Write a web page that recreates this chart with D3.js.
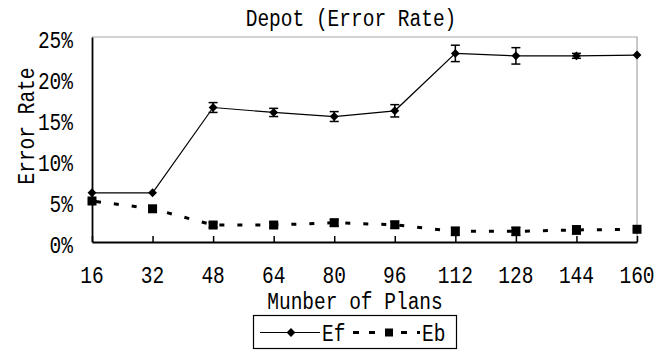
<!DOCTYPE html>
<html><head><meta charset="utf-8">
<script src="https://cdn.jsdelivr.net/npm/d3@7"></script>
<style>body{margin:0;background:#fff}svg{display:block}text{font-family:"Liberation Mono",monospace;font-size:19.5px;fill:#000}</style>
</head><body><svg id="c" width="668" height="354"></svg>
<script>
const plans = [16,32,48,64,80,96,112,128,144,160];
const efValues = [6.0,6.0,16.4,15.8,15.3,16.0,23.0,22.7,22.7,22.8];
const efErrors = [0,0,0.6,0.5,0.6,0.75,1.0,1.0,0.3,0];
const ebValues = [5.0,4.05,2.07,2.07,2.35,2.1,1.3,1.3,1.47,1.55];
const ebErrors = [0,0.2,0.3,0.3,0.4,0.4,0.5,0.5,0.5,0];
const yTicks = [0,5,10,15,20,25];
const titleText = "Depot (Error Rate)";
const xTitle = "Munber of Plans";
const yTitle = "Error Rate";
const seriesNames = ["Ef","Eb"];

const svg = d3.select("#c");
const x = d3.scaleLinear().domain([16,160]).range([92,637]);
const y = d3.scaleLinear().domain([0,25]).range([242,37]);
const SY = 1.25;

function label(px, py, str, anchor, rot){
  svg.append("text")
    .attr("transform", `translate(${px},${py}) rotate(${rot||0}) scale(1,${SY})`)
    .attr("text-anchor", anchor||"middle")
    .attr("dy","0.36em")
    .text(str);
}

// frame (top/right gray)
svg.append("path").attr("d",`M${x(16)},${y(25)}H${x(160)}V${y(0)}`)
  .attr("fill","none").attr("stroke","#a6a6a6").attr("stroke-width",1.2);

// axes
const xAxis = d3.axisBottom(x).tickValues(plans).tickSizeInner(-6).tickSizeOuter(0).tickFormat("");
const gx = svg.append("g").attr("transform",`translate(0,${y(0)})`).call(xAxis);
gx.select(".domain").attr("stroke","#000").attr("stroke-width",1.8);
gx.selectAll(".tick line").attr("stroke","#000").attr("stroke-width",1.5);
const yAxis = d3.axisLeft(y).tickValues(yTicks).tickSize(0).tickFormat("");
const gy = svg.append("g").attr("transform",`translate(${x(16)},0)`).call(yAxis);
gy.select(".domain").attr("stroke","#000").attr("stroke-width",1.8);

plans.forEach(p => label(x(p), 274.5, String(p)));
yTicks.forEach(t => label(73, y(t)+2, t+"%", "end"));

label(351, 17, titleText);
label(355, 300.5, xTitle);
label(25, 126, yTitle, "middle", -90);

// Ef series
const line = d3.line().x(d=>x(d[0])).y(d=>y(d[1]));
const ef = plans.map((p,i)=>[p,efValues[i],efErrors[i]]);
const eb = plans.map((p,i)=>[p,ebValues[i],ebErrors[i]]);

svg.append("path").datum(eb).attr("d",line).attr("fill","none")
  .attr("stroke","#000").attr("stroke-width",3).attr("stroke-dasharray","5,13").attr("stroke-dashoffset",-4);
svg.append("path").datum(ef).attr("d",line).attr("fill","none")
  .attr("stroke","#000").attr("stroke-width",1.2);

function errBars(data){
  const g = svg.append("g").attr("stroke","#000").attr("stroke-width",1.5);
  data.filter(d=>d[2]>0).forEach(d=>{
    const cx=x(d[0]), t=y(d[1]+d[2]), b=y(d[1]-d[2]);
    g.append("line").attr("x1",cx).attr("x2",cx).attr("y1",t).attr("y2",b);
    g.append("line").attr("x1",cx-4.5).attr("x2",cx+4.5).attr("y1",t).attr("y2",t);
    g.append("line").attr("x1",cx-4.5).attr("x2",cx+4.5).attr("y1",b).attr("y2",b);
  });
}
errBars(ef); errBars(eb);

const diamond = d3.symbol().type(d3.symbolDiamond2).size(50);
svg.append("g").selectAll("path").data(ef).join("path")
  .attr("transform",d=>`translate(${x(d[0])},${y(d[1])})`).attr("d",diamond).attr("fill","#000");
svg.append("g").selectAll("rect").data(eb).join("rect")
  .attr("x",d=>x(d[0])-4.5).attr("y",d=>y(d[1])-4.5).attr("width",9).attr("height",9).attr("fill","#000");

// legend
const lg = svg.append("g");
lg.append("rect").attr("x",253.5).attr("y",315.5).attr("width",203).attr("height",33)
  .attr("fill","#fff").attr("stroke","#000").attr("stroke-width",1.2);
const ly = 332.5;
lg.append("line").attr("x1",260).attr("x2",320).attr("y1",ly).attr("y2",ly).attr("stroke","#000").attr("stroke-width",1.2);
lg.append("path").attr("transform",`translate(291,${ly})`).attr("d",diamond).attr("fill","#000");
lg.append("line").attr("x1",353).attr("x2",420).attr("y1",ly).attr("y2",ly).attr("stroke","#000").attr("stroke-width",3).attr("stroke-dasharray","6,10");
lg.append("rect").attr("x",385).attr("y",ly-4).attr("width",8).attr("height",8).attr("fill","#000");
label(322, ly, seriesNames[0], "start");
label(422, ly, seriesNames[1], "start");
</script></body></html>
